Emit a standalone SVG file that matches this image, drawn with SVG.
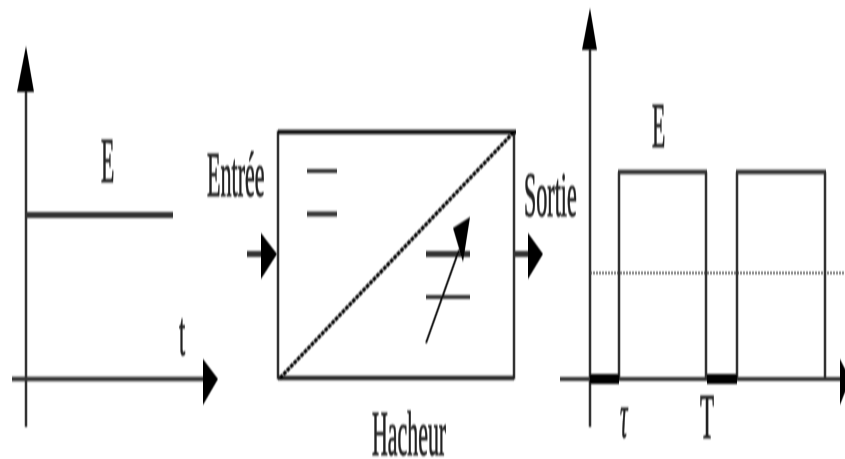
<svg xmlns="http://www.w3.org/2000/svg" width="845" height="459" viewBox="0 0 845 459">
<style>
.l{stroke:#333;fill:none}
.h{fill:#000;stroke:none}
text{font-family:"Liberation Serif","Times New Roman",serif;font-size:64px;fill:#222;stroke:#222;stroke-width:.9}
</style>
<defs><filter id="b" x="-5%" y="-5%" width="110%" height="110%"><feGaussianBlur stdDeviation="0.6 1"/></filter></defs>
<rect width="845" height="459" fill="#fff"/>
<g filter="url(#b)">
<g id="connectors">
<line class="l" x1="26" y1="90" x2="26" y2="427" stroke-width="2.5"/>
<polygon class="h" points="26,46 34,92 17,92"/>
<line class="l" x1="12" y1="379" x2="204" y2="379" stroke-width="4.5"/>
<polygon class="h" points="203,359 218,379 203,405"/>
<line class="l" x1="247" y1="254" x2="262" y2="254" stroke-width="6"/>
<polygon class="h" points="261,233 277,254 261,279"/>
<line class="l" x1="514" y1="254" x2="530" y2="254" stroke-width="6"/>
<polygon class="h" points="528,233 543,254 528,279"/>
<line class="l" x1="590" y1="48" x2="590" y2="427" stroke-width="2.5"/>
<polygon class="h" points="590,8 597,50 582,50"/>
<line class="l" x1="560" y1="379" x2="842" y2="379" stroke-width="4"/>
<polygon class="h" points="840,359 850,379 840,405"/>
</g>
<g id="input-signal">
<line class="l" x1="26" y1="215" x2="173" y2="215" stroke-width="6"/>
<text transform="translate(101,182) scale(.34,1)">E</text>
<text transform="translate(179,355) scale(.35,1)">t</text>
</g>
<g id="hacheur">
<rect class="l" x="278" y="132" width="236" height="246" stroke-width="2.5"/>
<line x1="278" y1="132" x2="516" y2="132" stroke="#111" stroke-width="4.5"/>
<line x1="278" y1="378" x2="514" y2="378" stroke="#222" stroke-width="4.5"/>
<line x1="280" y1="378" x2="514" y2="132" stroke="#000" stroke-width="3.5" stroke-dasharray="4 1"/>
<line class="l" x1="307" y1="171" x2="337" y2="171" stroke-width="4"/>
<line class="l" x1="307" y1="214" x2="337" y2="214" stroke-width="5"/>
<line class="l" x1="426" y1="254" x2="470" y2="254" stroke-width="6"/>
<line class="l" x1="426" y1="297" x2="470" y2="297" stroke-width="4"/>
<line x1="426" y1="343" x2="459" y2="250" stroke="#111" stroke-width="2"/>
<polygon class="h" points="470,217 453,228 463,262"/>
<text transform="translate(372,455) scale(.342,1)">Hacheur</text>
</g>
<g id="entree"><text transform="translate(207,196) scale(.345,1)">Entrée</text></g>
<g id="sortie"><text transform="translate(524,216) scale(.345,1)">Sortie</text></g>
<g id="output-signal">
<line x1="590" y1="273" x2="845" y2="273" stroke="#444" stroke-width="2" stroke-dasharray="2 1"/>
<path class="l" d="M619 379V172M706 379V172M737 379V172M825 379V172" stroke-width="2.5"/>
<path class="l" d="M618 172H707M736 172H826" stroke-width="4.5"/>
<rect class="h" x="590" y="374" width="29" height="10"/>
<rect class="h" x="707" y="374" width="30" height="10"/>
<text transform="translate(652,147) scale(.34,1)">E</text>
<text transform="translate(620,437) scale(.33,1)" style="font-style:italic">τ</text>
<text transform="translate(700,438) scale(.36,1)">T</text>
</g>
</g>
</svg>
